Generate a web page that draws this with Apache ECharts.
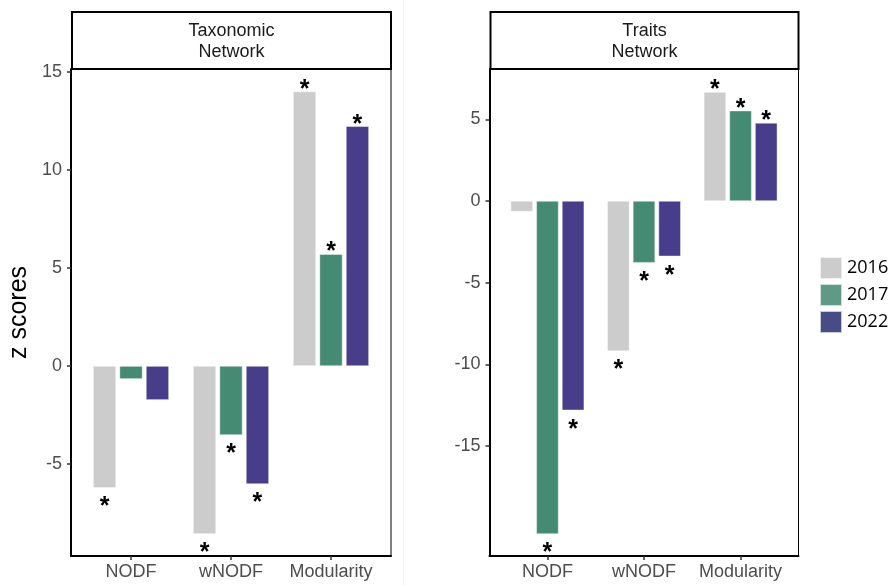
<!DOCTYPE html>
<html>
<head>
<meta charset="utf-8">
<script src="https://cdn.jsdelivr.net/npm/echarts@6/dist/echarts.min.js"></script>
<style>html,body{margin:0;padding:0;background:#fff;}#chart{width:890px;height:585px;}</style>
</head>
<body>
<div id="chart"></div>
<script>
// ---- data ----
const categories = ['NODF', 'wNODF', 'Modularity'];
const years = ['2016', '2017', '2022'];
const panelTitles = ['Taxonomic\nNetwork', 'Traits\nNetwork'];

const taxonomic2016 = [-6.21, -8.57, 14.0];
const taxonomic2017 = [-0.66, -3.52, 5.71];
const taxonomic2022 = [-1.73, -6.02, 12.23];
const taxonomicSig2016 = [1, 1, 1];
const taxonomicSig2017 = [0, 1, 1];
const taxonomicSig2022 = [0, 1, 1];

const traits2016 = [-0.65, -9.19, 6.67];
const traits2017 = [-20.39, -3.78, 5.53];
const traits2022 = [-12.82, -3.39, 4.78];
const traitsSig2016 = [0, 1, 1];
const traitsSig2017 = [1, 1, 1];
const traitsSig2022 = [1, 1, 1];

const taxonomicTicks = [15, 10, 5, 0, -5];
const traitsTicks = [5, 0, -5, -10, -15];

// ---- styles ----
const colors = ['#cccccc', '#458b73', '#483d8b'];
const legendColors = ['#cccccc', '#5f9a87', '#474b86'];
const FONT = 'Liberation Sans, Arial, sans-serif';

function makeData(vals, sig) {
  return vals.map((v, i) => ({
    value: [i + 1, v],
    label: {
      show: !!sig[i],
      position: v < 0 ? 'bottom' : 'top',
      offset: v < 0 ? [0, 0] : [0, 11],
      distance: v < 0 ? 7 : 0
    }
  }));
}

function xAxisFor(gi) {
  return {
    type: 'value', gridIndex: gi, min: 0.4, max: 3.6,
    axisLine: { show: true, onZero: false, lineStyle: { color: '#000', width: 2 } },
    axisTick: { show: true, customValues: [1, 2, 3], length: 4, lineStyle: { color: '#333', width: 1.5 } },
    axisLabel: { customValues: [1, 2, 3], formatter: v => categories[Math.round(v) - 1], color: '#4d4d4d', fontSize: 18, fontFamily: FONT, margin: 7 },
    splitLine: { show: false }
  };
}
function yAxisFor(gi, min, max, ticks, name) {
  return {
    type: 'value', gridIndex: gi, min: min, max: max,
    name: name, nameLocation: 'middle', nameGap: 39, nameRotate: 90,
    nameTextStyle: { color: '#000', fontSize: 25, fontFamily: FONT },
    axisLine: { show: true, onZero: false, lineStyle: { color: '#000', width: 2 } },
    axisTick: { show: true, customValues: ticks, length: 4, lineStyle: { color: '#333', width: 1.5 } },
    axisLabel: { customValues: ticks, color: '#4d4d4d', fontSize: 18, fontFamily: FONT, margin: 9 },
    splitLine: { show: false }
  };
}

const panels = [
  { data: [taxonomic2016, taxonomic2017, taxonomic2022], sig: [taxonomicSig2016, taxonomicSig2017, taxonomicSig2022], barWidth: 23 },
  { data: [traits2016, traits2017, traits2022], sig: [traitsSig2016, traitsSig2017, traitsSig2022], barWidth: 22.3 }
];

const series = [];
panels.forEach((p, gi) => {
  years.forEach((y, k) => {
    series.push({
      type: 'bar', name: y, xAxisIndex: gi, yAxisIndex: gi,
      barWidth: p.barWidth, barGap: '15%',
      itemStyle: { color: colors[k], borderColor: 'rgba(255,255,255,0.7)', borderWidth: 0.6 },
      label: { formatter: '*', color: '#000', fontSize: 25, fontWeight: 'bold', fontFamily: FONT },
      data: makeData(p.data[k], p.sig[k])
    });
  });
});

function strip(x, w, text) {
  return [
    { type: 'rect', shape: { x: x, y: 12, width: w, height: 57 }, style: { fill: '#fff', stroke: '#000', lineWidth: 2 } },
    { type: 'text', x: x + w / 2, y: 42, style: { text: text, fill: '#1a1a1a', font: '18px ' + FONT, align: 'center', verticalAlign: 'middle', lineHeight: 21 } }
  ];
}

const chart = echarts.init(document.getElementById('chart'));
chart.setOption({
  animation: false,
  backgroundColor: '#fff',
  grid: [
    { left: 71, top: 69, width: 320, height: 487, show: true, borderColor: '#000', borderWidth: 1, backgroundColor: 'transparent', containLabel: false, outerBoundsMode: 'none' },
    { left: 489.5, top: 69, width: 309, height: 487, show: true, borderColor: '#000', borderWidth: 1, backgroundColor: 'transparent', containLabel: false, outerBoundsMode: 'none' }
  ],
  xAxis: [xAxisFor(0), xAxisFor(1)],
  yAxis: [
    yAxisFor(0, -9.69, 15.15, taxonomicTicks, 'z scores'),
    yAxisFor(1, -21.74, 8.08, traitsTicks, '')
  ],
  legend: {
    orient: 'vertical', left: 819, top: 256, padding: 0,
    itemWidth: 22, itemHeight: 22, itemGap: 3, icon: 'rect',
    textStyle: { color: '#000', fontSize: 18, fontFamily: 'Open Sans, sans-serif' },
    data: years.map((y, k) => ({ name: y, itemStyle: { color: legendColors[k] } }))
  },
  graphic: [
    { type: 'line', shape: { x1: 403.5, y1: 0, x2: 403.5, y2: 585 }, style: { stroke: '#f2f2f2', lineWidth: 1 } },
    ...strip(72, 319, panelTitles[0]),
    ...strip(490.5, 308, panelTitles[1])
  ],
  series: series
});
</script>
</body>
</html>
